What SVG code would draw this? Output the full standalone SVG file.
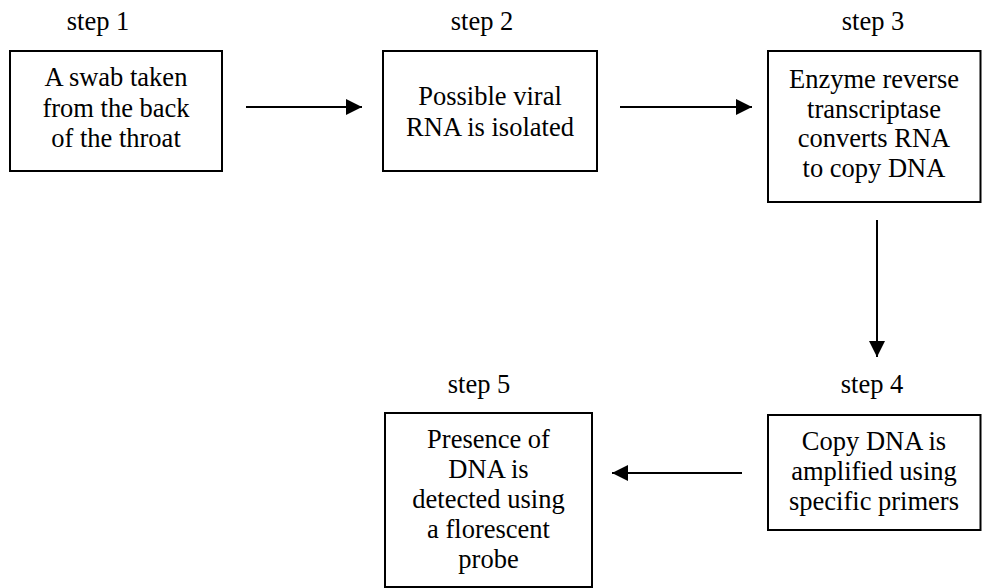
<svg xmlns="http://www.w3.org/2000/svg" width="982" height="588" viewBox="0 0 982 588">
<style>
text{font-family:'Liberation Serif','DejaVu Serif',serif;font-size:26.5px;fill:#000;text-anchor:middle}
.box{fill:#fff;stroke:#000;stroke-width:2}
.conn{stroke:#000;stroke-width:2;fill:none}
</style>
<defs>
<marker id="ah" markerWidth="16" markerHeight="16" viewBox="0 0 16 16" refX="16" refY="8" orient="auto" markerUnits="userSpaceOnUse">
<path d="M0,0 L16,8 L0,16 Z" fill="#000"/>
</marker>
</defs>
<rect width="982" height="588" fill="#fff"/>
<g id="connectors">
<line class="conn" x1="246" y1="107" x2="362" y2="107" marker-end="url(#ah)"/>
<line class="conn" x1="620" y1="107" x2="752" y2="107" marker-end="url(#ah)"/>
<line class="conn" x1="877" y1="220" x2="877" y2="357" marker-end="url(#ah)"/>
<line class="conn" x1="742" y1="473" x2="612" y2="473" marker-end="url(#ah)"/>
</g>
<g id="step1">
<text x="98" y="30">step 1</text>
<rect class="box" x="10" y="51" width="212" height="120"/>
<text x="116" y="86">A swab taken</text>
<text x="116" y="117">from the back</text>
<text x="116" y="147">of the throat</text>
</g>
<g id="step2">
<text x="482" y="30">step 2</text>
<rect class="box" x="383" y="51" width="214" height="120"/>
<text x="490" y="105">Possible viral</text>
<text x="490" y="136">RNA is isolated</text>
</g>
<g id="step3">
<text x="873" y="30">step 3</text>
<rect class="box" x="768" y="51" width="212.5" height="151"/>
<text x="874" y="88">Enzyme reverse</text>
<text x="874" y="118">transcriptase</text>
<text x="874" y="147">converts RNA</text>
<text x="874" y="177">to copy DNA</text>
</g>
<g id="step4">
<text x="872" y="393">step 4</text>
<rect class="box" x="768" y="415" width="212.5" height="115"/>
<text x="874" y="450">Copy DNA is</text>
<text x="874" y="480">amplified using</text>
<text x="874" y="510">specific primers</text>
</g>
<g id="step5">
<text x="479" y="393">step 5</text>
<rect class="box" x="385" y="413" width="207" height="174"/>
<text x="488.5" y="448">Presence of</text>
<text x="488.5" y="478">DNA is</text>
<text x="488.5" y="508">detected using</text>
<text x="488.5" y="538">a florescent</text>
<text x="488.5" y="568">probe</text>
</g>
</svg>
